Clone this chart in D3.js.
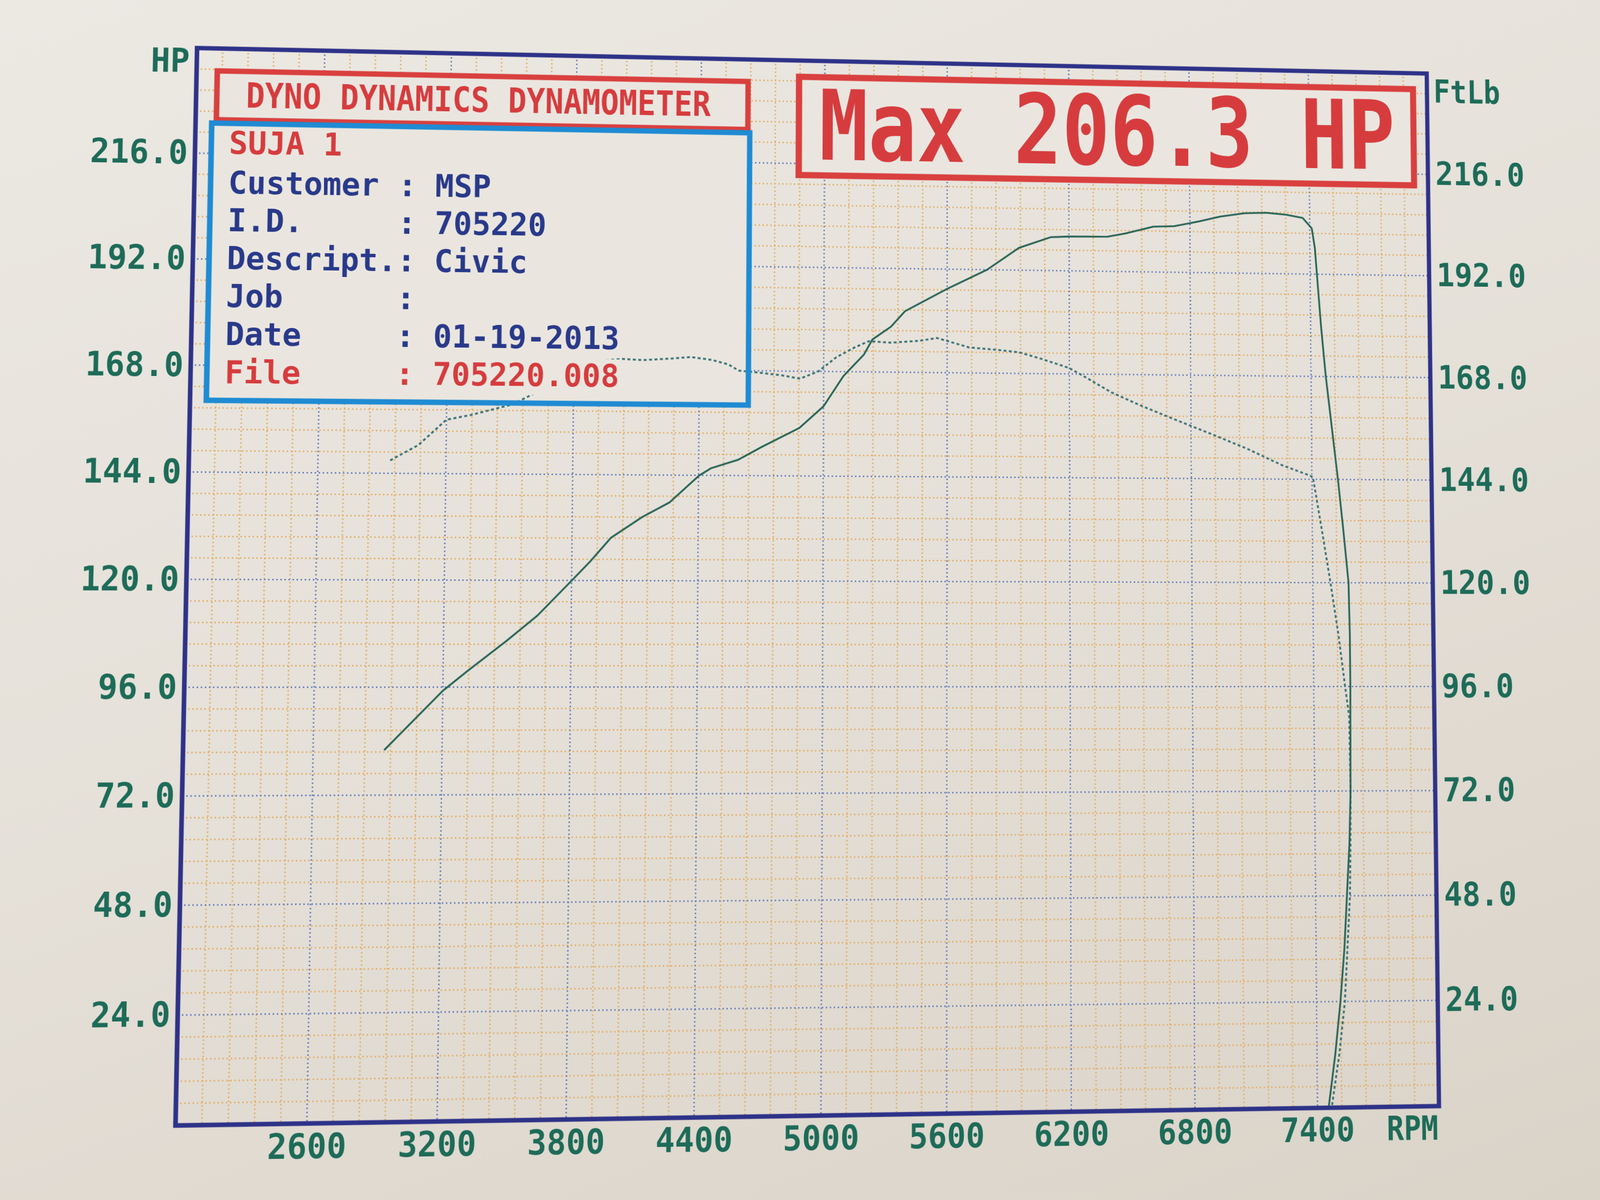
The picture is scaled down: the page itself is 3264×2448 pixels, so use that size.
<!DOCTYPE html>
<html><head><meta charset="utf-8">
<script src="https://cdn.jsdelivr.net/npm/d3@7"></script>
<style>
html,body{margin:0;padding:0;width:3264px;height:2448px;overflow:hidden;}
body{background:linear-gradient(160deg,#ece9e3 0%,#e5e0d8 50%,#dad3c8 100%);}
#wrap{position:absolute;left:0;top:0;width:3264px;height:2448px;transform-origin:0 0;}
svg{display:block;}
</style></head><body><div id="wrap"></div>
<script>
// ---------- data ----------
const rpmTicks = [2600,3200,3800,4400,5000,5600,6200,6800,7400];
const powerTicks = [24,48,72,96,120,144,168,192,216];

const hpRpm = [2930,3200,3314,3494,3641,3805,3887,3985,4132,4263,4402,4459,4590,4704,4884,5000,5096,5195,5236,5326,5394,5595,5796,5953,6111,6198,6390,6478,6618,6723,6845,6950,7073,7180,7282,7365,7410,7425,7434,7452,7474,7502,7530,7555,7578,7582,7582,7580,7578,7570,7555,7540,7518,7490,7455];
const hpValues = [82.0,95.2,99.6,106.3,112.1,120.2,124.3,129.7,134.4,137.8,143.9,145.6,147.6,150.6,155.0,160.0,167.0,172.0,175.5,178.5,182.1,187.3,192.0,197.2,199.8,200.0,200.1,200.9,202.6,202.8,204.0,205.2,206.1,206.3,205.9,205.2,202.8,198.1,192.0,180,168,156,144,132,120,108,96,84,72,60,48,36,24,12,0];

const tqRpm = [2938,3069,3200,3314,3511,3625,3780,3943,4030,4132,4263,4360,4459,4540,4590,4704,4799,4886,4974,5061,5149,5219,5324,5463,5551,5604,5708,5848,5953,6058,6198,6286,6408,6548,6723,6898,7073,7248,7387,7405,7448,7488,7525,7556,7575,7578,7575,7570,7555,7540,7510,7470];
const tqValues = [146.9,150.4,156.2,157.3,159.8,162.6,166.5,170.0,170.4,170.2,170.6,171.0,170.4,169.4,168.0,167.5,167.0,166.3,168.0,171.3,173.6,175.1,174.8,175.3,176.0,175.3,173.9,173.4,172.9,171.5,169.4,167.1,163.8,160.9,157.6,154.4,151.1,147.3,144.9,144.5,132,120,108,96,89,72,60,48,36,24,12,0];

const headerText = "DYNO DYNAMICS DYNAMOMETER";
const runName = "SUJA 1";
const infoLabels = ["Customer","I.D.","Descript.","Job","Date","File"];
const infoValues = ["MSP","705220","Civic","","01-19-2013","705220.008"];
const maxText = "Max 206.3 HP";

// ---------- layout ----------
const W = 3264, H = 2448;
const L = 380, T = 124, R = 2922, B = 2275;
const FONT = "'DejaVu Sans Mono', 'Liberation Mono', monospace";
const PAPER = "#eae6df";
const TEAL = "#1d6b58", NAVY = "#29398a", RED = "#d63c3e";

const x = d3.scaleLinear().domain([2000, 8000]).range([L, R]);
const y = d3.scaleLinear().domain([0, 240]).range([B, T]);

const svg = d3.select("#wrap").append("svg").attr("width", W).attr("height", H);

// grid
const grid = svg.append("g");
const xMinor = d3.range(0, 51).map(i => 2000 + i * 120);
const yMinor = d3.range(0, 51).map(i => i * 4.8);
const isMajX = v => Math.round(v - 2000) % 600 === 0;
grid.selectAll("line.ox").data(xMinor.filter(v => !isMajX(v))).join("line")
  .attr("x1", d => x(d)).attr("x2", d => x(d)).attr("y1", T).attr("y2", B)
  .attr("stroke", "#e3b06a").attr("stroke-width", 3).attr("stroke-dasharray", "3 5");
grid.selectAll("line.oy").data(yMinor.filter((v, i) => i % 5 !== 0)).join("line")
  .attr("y1", d => y(d)).attr("y2", d => y(d)).attr("x1", L).attr("x2", R)
  .attr("stroke", "#e3b06a").attr("stroke-width", 3).attr("stroke-dasharray", "3 5");
grid.selectAll("line.bx").data(xMinor.filter(v => isMajX(v) && v > 2000 && v < 8000)).join("line")
  .attr("x1", d => x(d)).attr("x2", d => x(d)).attr("y1", T).attr("y2", B)
  .attr("stroke", "#6a80bb").attr("stroke-width", 3).attr("stroke-dasharray", "3 5");
grid.selectAll("line.by").data(yMinor.filter((v, i) => i % 5 === 0 && v > 0 && v < 240)).join("line")
  .attr("y1", d => y(d)).attr("y2", d => y(d)).attr("x1", L).attr("x2", R)
  .attr("stroke", "#6a80bb").attr("stroke-width", 3).attr("stroke-dasharray", "3 5");

// boxes (fills)
const tb = {x: L + 41, y: T + 46, w: 1072, h: 100};
const ib = {x: L + 32, y: T + 153, w: 1085, h: 563};
const mb = {x: 1598, y: 158, w: 1294, h: 205};
[tb, ib, mb].forEach(b => svg.append("rect").attr("x", b.x).attr("y", b.y)
  .attr("width", b.w).attr("height", b.h).attr("fill", PAPER));

// curves
const line = d3.line().x(d => x(d[0])).y(d => y(d[1]));
svg.append("path").datum(tqRpm.map((r, i) => [r, tqValues[i]]))
  .attr("d", line).attr("fill", "none").attr("stroke", "#3f7478")
  .attr("stroke-width", 4).attr("stroke-dasharray", "6 5");
svg.append("path").datum(hpRpm.map((r, i) => [r, hpValues[i]]))
  .attr("d", line).attr("fill", "none").attr("stroke", "#2b6658")
  .attr("stroke-width", 3.8).attr("stroke-linejoin", "round");

// info box texts (printed on opaque cells)
const charW = 37.5;
const infoG = svg.append("g").attr("font-family", FONT).attr("font-weight", "bold").attr("font-size", 64);
const tx0 = ib.x + 35;
infoG.append("text").attr("x", tx0).attr("y", ib.y + 62).attr("fill", RED)
  .attr("textLength", runName.length * charW).attr("lengthAdjust", "spacingAndGlyphs").text(runName);
infoLabels.forEach((lab, i) => {
  const base = ib.y + 143 + i * 77;
  const col = i === infoLabels.length - 1 ? RED : NAVY;
  const val = infoValues[i];
  const endCol = val ? 11 + val.length : 10;
  infoG.append("rect").attr("x", tx0 - 6).attr("y", base - 56)
    .attr("width", endCol * charW + 12).attr("height", 74).attr("fill", PAPER);
  infoG.append("text").attr("x", tx0).attr("y", base).attr("fill", col)
    .attr("textLength", lab.length * charW).attr("lengthAdjust", "spacingAndGlyphs").text(lab);
  infoG.append("text").attr("x", tx0 + 9 * charW).attr("y", base).attr("fill", col).text(":");
  if (val) infoG.append("text").attr("x", tx0 + 11 * charW).attr("y", base).attr("fill", col)
    .attr("textLength", val.length * charW).attr("lengthAdjust", "spacingAndGlyphs").text(val);
});

// header text
svg.append("text").attr("x", tb.x + 58).attr("y", tb.y + 74)
  .attr("font-family", FONT).attr("font-weight", "bold").attr("font-size", 72).attr("fill", RED)
  .attr("textLength", headerText.length * charW).attr("lengthAdjust", "spacingAndGlyphs").text(headerText);

// max text
svg.append("text").attr("x", mb.x + 42).attr("y", mb.y + 172)
  .attr("font-family", FONT).attr("font-weight", "bold").attr("font-size", 204).attr("fill", RED)
  .attr("textLength", 1212).attr("lengthAdjust", "spacingAndGlyphs").text(maxText);

// box borders
svg.append("rect").attr("x", tb.x).attr("y", tb.y).attr("width", tb.w).attr("height", tb.h)
  .attr("fill", "none").attr("stroke", "#d9403f").attr("stroke-width", 11);
svg.append("rect").attr("x", ib.x).attr("y", ib.y).attr("width", ib.w).attr("height", ib.h)
  .attr("fill", "none").attr("stroke", "#1f8bd3").attr("stroke-width", 11);
svg.append("rect").attr("x", mb.x).attr("y", mb.y).attr("width", mb.w).attr("height", mb.h)
  .attr("fill", "none").attr("stroke", "#d9403f").attr("stroke-width", 13);

// frame
svg.append("rect").attr("x", L).attr("y", T).attr("width", R - L).attr("height", B - T)
  .attr("fill", "none").attr("stroke", "#2e3288").attr("stroke-width", 9);

// axes
const fmt = d3.format(".1f");
function styleAxis(g) {
  g.attr("font-family", FONT).attr("font-size", 68).attr("font-weight", "bold");
  g.select(".domain").remove();
  g.selectAll(".tick line").remove();
  g.selectAll(".tick text").attr("fill", TEAL)
    .attr("textLength", function() { return this.textContent.length * 38.5; })
    .attr("lengthAdjust", "spacingAndGlyphs");
}
svg.append("g").attr("transform", `translate(${L},0)`)
  .call(d3.axisLeft(y).tickValues(powerTicks).tickFormat(fmt).tickSize(0).tickPadding(14))
  .call(styleAxis);
svg.append("g").attr("transform", `translate(${R},0)`)
  .call(d3.axisRight(y).tickValues(powerTicks).tickFormat(fmt).tickSize(0).tickPadding(16))
  .call(styleAxis);
svg.append("g").attr("transform", `translate(0,${B})`)
  .call(d3.axisBottom(x).tickValues(rpmTicks).tickFormat(d3.format("d")).tickSize(0).tickPadding(20))
  .call(styleAxis);

// unit labels
const unitG = svg.append("g").attr("font-family", FONT).attr("font-size", 68)
  .attr("font-weight", "bold").attr("fill", TEAL);
unitG.append("text").attr("x", L - 14).attr("y", T + 50).attr("text-anchor", "end")
  .attr("textLength", 2 * 38.5).attr("lengthAdjust", "spacingAndGlyphs").text("HP");
unitG.append("text").attr("x", R + 14).attr("y", T + 62)
  .attr("textLength", 4 * 36).attr("lengthAdjust", "spacingAndGlyphs").text("FtLb");
unitG.append("text").attr("x", R - 2).attr("y", B + 68).attr("text-anchor", "end")
  .attr("textLength", 3 * 36).attr("lengthAdjust", "spacingAndGlyphs").text("RPM");

// ---------- photo perspective (projective warp of the whole sheet) ----------
function homography(src, dst) {
  const A = [], b = [];
  for (let i = 0; i < 4; i++) {
    const [sx, sy] = src[i], [u, v] = dst[i];
    A.push([sx, sy, 1, 0, 0, 0, -u * sx, -u * sy]); b.push(u);
    A.push([0, 0, 0, sx, sy, 1, -v * sx, -v * sy]); b.push(v);
  }
  const n = 8;
  for (let c = 0; c < n; c++) {
    let p = c;
    for (let r = c + 1; r < n; r++) if (Math.abs(A[r][c]) > Math.abs(A[p][c])) p = r;
    [A[c], A[p]] = [A[p], A[c]]; [b[c], b[p]] = [b[p], b[c]];
    for (let r = 0; r < n; r++) {
      if (r === c) continue;
      const f = A[r][c] / A[c][c];
      for (let k = c; k < n; k++) A[r][k] -= f * A[c][k];
      b[r] -= f * b[c];
    }
  }
  return b.map((v, i) => v / A[i][i]);
}
const h = homography(
  [[L, T], [R, T], [L, B], [R, B]],
  [[402, 98], [2910, 150], [358, 2296], [2935, 2256]]
);
document.getElementById("wrap").style.transform =
  `matrix3d(${h[0]},${h[3]},0,${h[6]},${h[1]},${h[4]},0,${h[7]},0,0,1,0,${h[2]},${h[5]},0,1)`;
</script>
</body></html>
